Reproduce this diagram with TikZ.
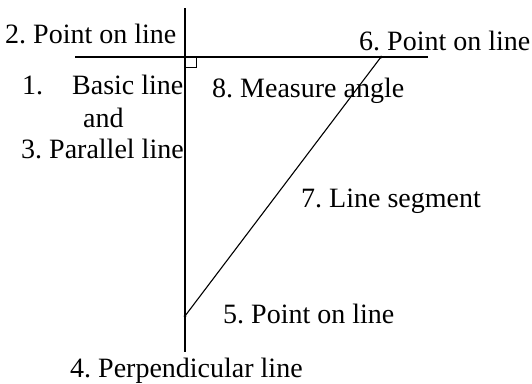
\documentclass[tikz,border=0pt]{standalone}
\usepackage{fontspec}
\setmainfont{Liberation Serif}
\begin{document}
\frenchspacing
\begin{tikzpicture}[x=1pt,y=-1pt,
  lbl/.style={anchor=base west,inner sep=0pt,font=\fontsize{28}{34}\selectfont},
  ln/.style={line width=1.1pt},
  thin line/.style={line width=0.9pt},
  pt/.style={circle,fill=black,inner sep=0pt,minimum size=3pt}]
\useasboundingbox (0,0) rectangle (532,383);
% geometry
\coordinate (vtop) at (185,8);
\coordinate (vbot) at (185,352);
\coordinate (hleft) at (75,57);
\coordinate (hright) at (428,57);
\node[pt] (p2) at (185,57) {};
\node[pt] (p6) at (381,57) {};
\node[pt] (p5) at (185,316) {};
\coordinate (sqa) at (196,57);
\coordinate (sqb) at (196,67);
\coordinate (sqc) at (185,67);
\draw[ln] (vtop) -- (vbot);
\draw[ln] (hleft) -- (hright);
\draw[ln] (p6.center) -- (p5.center);
\draw[thin line] (sqa) -- (sqb) -- (sqc);
% labels
\node[lbl] (l2) at (5,43) {2. Point on line};
\node[lbl] (l6) at (359,50) {6. Point on line};
\node[lbl] (l1) at (22,94) {1.\hspace{29pt}Basic line};
\node[lbl] (l8) at (212,97) {8. Measure angle};
\node[lbl] (land) at (83,127) {and};
\node[lbl] (l3) at (21,158) {3. Parallel line};
\node[lbl] (l7) at (301,207) {7. Line segment};
\node[lbl] (l5) at (223,323) {5. Point on line};
\node[lbl] (l4) at (70,377) {4. Perpendicular line};
\end{tikzpicture}
\end{document}
